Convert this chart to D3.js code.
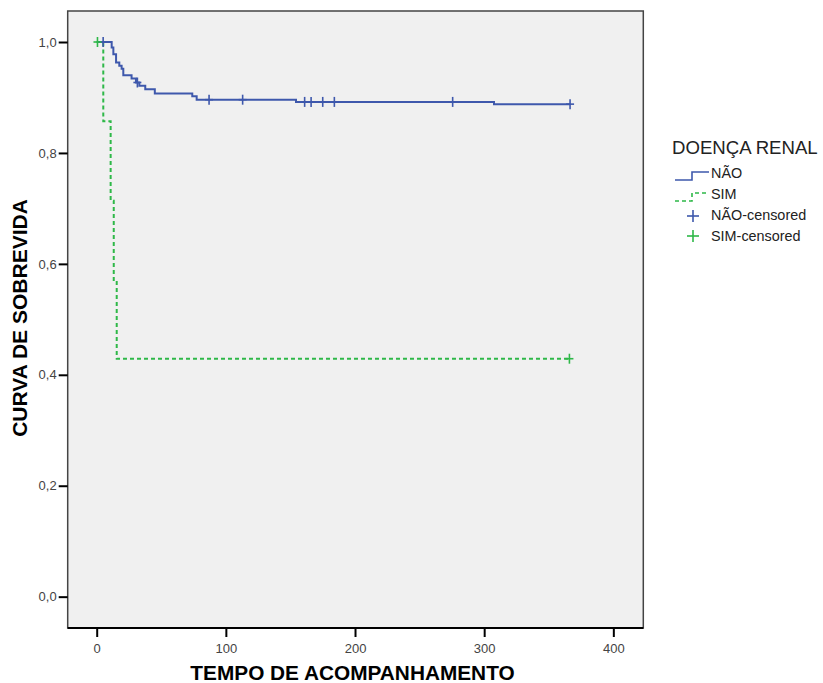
<!DOCTYPE html>
<html>
<head>
<meta charset="utf-8">
<script src="https://cdn.jsdelivr.net/npm/d3@7"></script>
<style>
  body { margin: 0; background: #fff; }
  text { font-family: "Liberation Sans", Arial, sans-serif; }
</style>
</head>
<body>
<div id="chart"></div>
<script>
// survival steps
var naoTimes = [0, 11.6, 12.9, 15, 17.5, 19.3, 20.6, 27, 30.4, 33, 37.6, 45, 74, 77.4, 154.3, 307.6];
var naoSurv  = [1.0, 0.99, 0.978, 0.963, 0.957, 0.952, 0.940, 0.934, 0.927, 0.921, 0.915, 0.907, 0.902, 0.896, 0.892, 0.888];
var naoEnd = 366.5;
var naoCensored = [5, 31.5, 87, 113, 161, 166, 175, 184, 275.6, 366.5];

var simTimes = [0, 5.1, 10.8, 13.2, 15.5];
var simSurv  = [1.0, 0.857, 0.714, 0.571, 0.429];
var simEnd = 366;
var simCensored = [0.6, 366];

var xTicks = [0, 100, 200, 300, 400];
var yTicks = [0, 0.2, 0.4, 0.6, 0.8, 1.0];

var legendLabels = ["NÃO", "SIM", "NÃO-censored", "SIM-censored"];
var blue = "#3e58ac", green = "#2eb848";

var fullWidth = 823, fullHeight = 683;
var plot = {left: 67.7, right: 643.3, top: 11, bottom: 628};

var svg = d3.select("#chart").append("svg")
  .attr("width", fullWidth)
  .attr("height", fullHeight);

var xScale = d3.scaleLinear().domain([-22.45, 423.2]).range([plot.left, plot.right]);
var yScale = d3.scaleLinear().domain([-0.0565, 1.0559]).range([plot.bottom, plot.top]);

// plot background
svg.append("rect")
  .attr("x", plot.left).attr("y", plot.top)
  .attr("width", plot.right - plot.left).attr("height", plot.bottom - plot.top)
  .attr("fill", "#f0f0f0")
  .attr("stroke", "#444").attr("stroke-width", 1.5);

// axes
var xAxis = d3.axisBottom(xScale).tickValues(xTicks).tickSize(9).tickSizeOuter(0)
  .tickFormat(d3.format("d"));
var yAxis = d3.axisLeft(yScale).tickValues(yTicks).tickSize(9).tickSizeOuter(0)
  .tickFormat(function(d){ return d3.format(".1f")(d).replace(".", ","); });

var gx = svg.append("g").attr("transform", "translate(0," + plot.bottom + ")").call(xAxis);
gx.select(".domain").remove();
gx.selectAll(".tick line").attr("stroke", "#000").attr("stroke-width", 2);
gx.selectAll(".tick text").attr("font-size", 13).attr("fill", "#444").attr("dy", "1.0em");

var gy = svg.append("g").attr("transform", "translate(" + plot.left + ",0)").call(yAxis);
gy.select(".domain").remove();
gy.selectAll(".tick line").attr("stroke", "#000").attr("stroke-width", 2);
gy.selectAll(".tick text").attr("font-size", 13).attr("fill", "#444").attr("x", -11);

// bottom frame line darker
svg.append("line")
  .attr("x1", plot.left).attr("x2", plot.right)
  .attr("y1", plot.bottom).attr("y2", plot.bottom)
  .attr("stroke", "#000").attr("stroke-width", 2);

// axis titles
svg.append("text")
  .attr("x", (plot.left + plot.right) / 2 - 3).attr("y", 680)
  .attr("text-anchor", "middle").attr("font-size", 20.8).attr("font-weight", "bold")
  .text("TEMPO DE ACOMPANHAMENTO");

svg.append("text")
  .attr("transform", "translate(27," + 318 + ") rotate(-90)")
  .attr("text-anchor", "middle").attr("font-size", 21).attr("font-weight", "bold")
  .text("CURVA DE SOBREVIDA");

// step curves
function stepPoints(times, surv, end) {
  var pts = times.map(function(t, i){ return [t, surv[i]]; });
  pts.push([end, surv[surv.length - 1]]);
  return pts;
}
function survAt(times, surv, t) {
  var s = surv[0];
  for (var i = 0; i < times.length; i++) { if (times[i] <= t) s = surv[i]; }
  return s;
}
var line = d3.line().x(function(d){ return xScale(d[0]); }).y(function(d){ return yScale(d[1]); })
  .curve(d3.curveStepAfter);

svg.append("path")
  .datum(stepPoints(simTimes, simSurv, simEnd))
  .attr("d", line).attr("fill", "none")
  .attr("stroke", green).attr("stroke-width", 2).attr("stroke-dasharray", "4,3");

svg.append("path")
  .datum(stepPoints(naoTimes, naoSurv, naoEnd))
  .attr("d", line).attr("fill", "none")
  .attr("stroke", blue).attr("stroke-width", 2);

// censored marks
function plus(g, cx, cy, hw, hh, color) {
  g.append("line").attr("x1", cx - hw).attr("x2", cx + hw).attr("y1", cy).attr("y2", cy)
    .attr("stroke", color).attr("stroke-width", 1.6);
  g.append("line").attr("x1", cx).attr("x2", cx).attr("y1", cy - hh).attr("y2", cy + hh)
    .attr("stroke", color).attr("stroke-width", 1.6);
}
var cg = svg.append("g");
naoCensored.forEach(function(t){
  plus(cg, xScale(t), yScale(survAt(naoTimes, naoSurv, t)), 4, 5, blue);
});
simCensored.forEach(function(t){
  plus(cg, xScale(t), yScale(survAt(simTimes, simSurv, t)), 4, 5, green);
});

// legend
var lg = svg.append("g");
lg.append("text").attr("x", 672).attr("y", 154).attr("font-size", 18.6).attr("fill", "#222")
  .text("DOENÇA RENAL");

var rows = [178, 199, 220, 241];
legendLabels.forEach(function(lab, i){
  lg.append("text").attr("x", 711).attr("y", rows[i]).attr("font-size", 14.4).attr("fill", "#222")
    .text(lab);
});
var stepSym = function(y) {
  return "M675," + (y + 2) + "H692V" + (y - 6) + "H709";
};
lg.append("path").attr("d", stepSym(178)).attr("fill", "none")
  .attr("stroke", blue).attr("stroke-width", 1.6);
lg.append("path").attr("d", stepSym(199)).attr("fill", "none")
  .attr("stroke", green).attr("stroke-width", 1.6).attr("stroke-dasharray", "4,3");
plus(lg, 693, 216, 6, 6, blue);
plus(lg, 693, 236, 6, 6, green);
</script>
</body>
</html>
